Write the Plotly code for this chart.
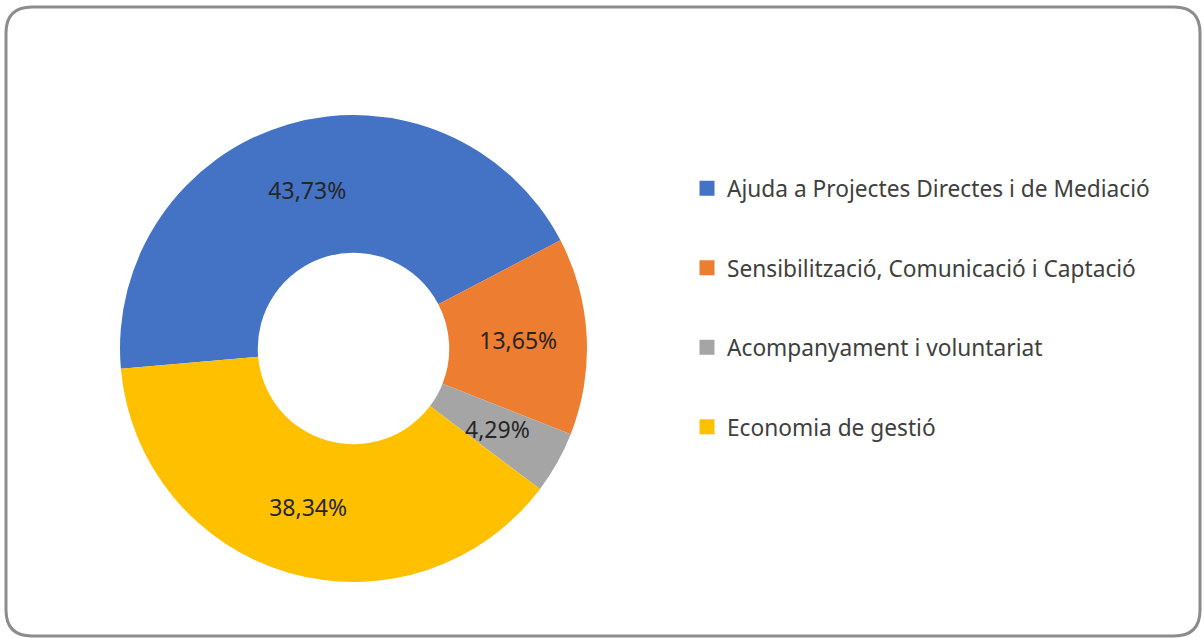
import math
import plotly.graph_objects as go

labels = [
    "Ajuda a Projectes Directes i de Mediació",
    "Sensibilització, Comunicació i Captació",
    "Acompanyament i voluntariat",
    "Economia de gestió",
]
values = [43.73, 13.65, 4.29, 38.34]
colors = ["#4472C4", "#ED7D31", "#A5A5A5", "#FFC000"]

W, H = 1204, 638
FONT = "Noto Sans"
ROTATION = -95
HOLE = 0.41
DOM_X = [120 / W, 587 / W]
DOM_Y = [(H - 582) / H, (H - 115) / H]
SMALL = 0.06  # slices thinner than this get their label placed at mid-ring

def fmt(v):
    return f"{v:.2f}%".replace(".", ",")

total = sum(values)
slice_text = [fmt(v) if v / total >= SMALL else "" for v in values]

fig = go.Figure()

fig.add_trace(go.Pie(
    labels=labels,
    values=values,
    text=slice_text,
    sort=False,
    direction="clockwise",
    rotation=ROTATION,
    hole=HOLE,
    marker=dict(colors=colors, line=dict(width=0)),
    texttemplate="%{text}",
    textposition="inside",
    insidetextorientation="horizontal",
    insidetextfont=dict(family=FONT, size=23, color="#262626"),
    domain=dict(x=DOM_X, y=DOM_Y),
    showlegend=False,
    hoverinfo="label+value",
))

# labels of thin slices: placed on the slice bisector at mid-ring radius
cx_px = (DOM_X[0] + DOM_X[1]) / 2 * W
cy_px = (DOM_Y[0] + DOM_Y[1]) / 2 * H
R_px = min((DOM_X[1] - DOM_X[0]) * W, (DOM_Y[1] - DOM_Y[0]) * H) / 2
r_mid = R_px * (1 + HOLE) / 2
annotations = []
cum = 0.0
for v in values:
    if v / total < SMALL:
        ang = math.radians(ROTATION + (cum + v / 2) / total * 360)
        ax = (cx_px + r_mid * math.sin(ang)) / W
        ay = (cy_px + r_mid * math.cos(ang)) / H
        annotations.append(dict(
            x=ax, y=ay, xref="paper", yref="paper", text=fmt(v),
            showarrow=False, xanchor="center", yanchor="middle",
            font=dict(family=FONT, size=23, color="#262626"),
        ))
    cum += v

# legend entries (square markers) built from the same labels / colours
for i, (lab, col) in enumerate(zip(labels, colors)):
    fig.add_trace(go.Scatter(
        x=[None], y=[None], mode="markers", name=lab,
        marker=dict(symbol="square", size=15, color=col),
        legendgroup=f"g{i}", showlegend=True,
    ))

# rounded frame
x0, x1 = 6 / W, 1200 / W
y0, y1 = 1 - 636 / H, 1 - 7 / H
rx, ry = 26 / W, 26 / H
path = (
    f"M {x0 + rx},{y1} L {x1 - rx},{y1} Q {x1},{y1} {x1},{y1 - ry} "
    f"L {x1},{y0 + ry} Q {x1},{y0} {x1 - rx},{y0} "
    f"L {x0 + rx},{y0} Q {x0},{y0} {x0},{y0 + ry} "
    f"L {x0},{y1 - ry} Q {x0},{y1} {x0 + rx},{y1} Z"
)

fig.update_layout(
    width=W, height=H,
    margin=dict(l=0, r=0, t=0, b=0),
    paper_bgcolor="white", plot_bgcolor="white",
    uniformtext=dict(minsize=23, mode="show"),
    xaxis=dict(visible=False), yaxis=dict(visible=False),
    font=dict(family=FONT, color="#404040"),
    legend=dict(
        x=687 / W, xanchor="left",
        y=1 - 167 / H, yanchor="top",
        font=dict(family=FONT, size=22.7, color="#404040"),
        tracegroupgap=47,
        itemsizing="trace",
        bgcolor="rgba(0,0,0,0)",
    ),
    annotations=annotations,
    shapes=[dict(type="path", xref="paper", yref="paper", path=path,
                 line=dict(color="#8C8C8C", width=3), layer="above")],
    showlegend=True,
)

fig.write_html("out.html", config={"displayModeBar": False},
               post_script="document.body.style.margin='0';")
